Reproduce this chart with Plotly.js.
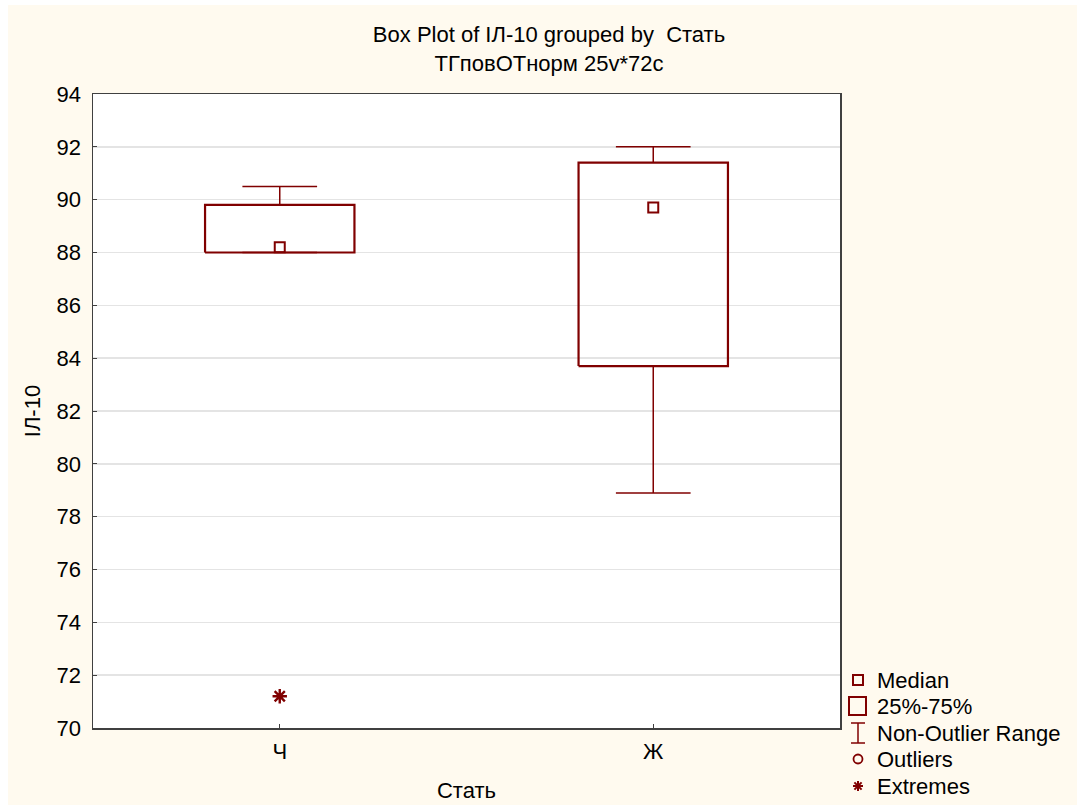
<!DOCTYPE html>
<html>
<head>
<meta charset="utf-8">
<script src="https://cdn.plot.ly/plotly-3.0.1.min.js"></script>
<style>
  html, body { margin: 0; padding: 0; background: #ffffff; }
  #chart { width: 1079px; height: 807px; }
</style>
</head>
<body>
<div id="chart"></div>
<script>
// Box statistics of ІЛ-10 per group
const categories = ['Ч', 'Ж'];
const medianVals = [88.2, 89.7];
const q1Vals = [88.0, 83.7];
const q3Vals = [89.8, 91.4];
const whiskerLow = [88.0, 78.9];
const whiskerHigh = [90.5, 92.0];
const extremeCats = ['Ч'];
const extremeVals = [71.2];

const legendLabels = ['Median', '25%-75%', 'Non-Outlier Range', 'Outliers', 'Extremes'];

const RED = '#800000';
const FONT = 'Liberation Sans, Arial, sans-serif';
const FS = 22;

// plot area in pixels, used to place the hand-drawn legend outside it
const L = 93, T = 94, W = 747, H = 634;
const px = p => (p - L) / W;
const py = p => (T + H - p) / H;

const boxHalf = 0.2, capHalf = 0.1;
const idx = categories.map((c, i) => i);

// box outlines (25%-75%)
const boxX = [], boxY = [];
idx.forEach(i => {
  boxX.push(i - boxHalf, i + boxHalf, i + boxHalf, i - boxHalf, i - boxHalf, null);
  boxY.push(q1Vals[i], q1Vals[i], q3Vals[i], q3Vals[i], q1Vals[i], null);
});

// whiskers with caps (non-outlier range)
const wX = [], wY = [];
idx.forEach(i => {
  wX.push(i, i, null, i - capHalf, i + capHalf, null);
  wY.push(q3Vals[i], whiskerHigh[i], null, whiskerHigh[i], whiskerHigh[i], null);
  wX.push(i, i, null, i - capHalf, i + capHalf, null);
  wY.push(q1Vals[i], whiskerLow[i], null, whiskerLow[i], whiskerLow[i], null);
});

const traces = [
  {
    type: 'scatter', mode: 'lines', x: wX, y: wY,
    line: { color: RED, width: 1.5 }, hoverinfo: 'skip', showlegend: false
  },
  {
    type: 'scatter', mode: 'lines', x: boxX, y: boxY,
    line: { color: RED, width: 2.2 }, hoverinfo: 'skip', showlegend: false
  },
  {
    type: 'scatter', mode: 'markers', x: idx, y: medianVals,
    marker: { symbol: 'square-open', size: 10, color: RED, line: { color: RED, width: 2 } },
    showlegend: false
  },
  {
    type: 'scatter', mode: 'markers',
    x: extremeCats.map(c => categories.indexOf(c)), y: extremeVals,
    marker: { symbol: 'asterisk-open', size: 12, color: RED, line: { color: RED, width: 2.4 } },
    showlegend: false
  }
];

// legend symbols
const lgY = [680, 706, 733, 759, 786];
const lgCx = 858;
const shapes = [];
const pshape = (o) => Object.assign({ xref: 'paper', yref: 'paper' }, o);
shapes.push(pshape({ type: 'rect', x0: px(853), x1: px(863), y0: py(lgY[0] + 5), y1: py(lgY[0] - 5),
  line: { color: RED, width: 2 } }));
shapes.push(pshape({ type: 'rect', x0: px(849), x1: px(866), y0: py(lgY[1] + 9), y1: py(lgY[1] - 9),
  line: { color: RED, width: 2 } }));
shapes.push(pshape({ type: 'line', x0: px(lgCx), x1: px(lgCx), y0: py(lgY[2] - 10), y1: py(lgY[2] + 10),
  line: { color: RED, width: 1.5 } }));
shapes.push(pshape({ type: 'line', x0: px(851), x1: px(865), y0: py(lgY[2] - 10), y1: py(lgY[2] - 10),
  line: { color: RED, width: 1.5 } }));
shapes.push(pshape({ type: 'line', x0: px(851), x1: px(865), y0: py(lgY[2] + 10), y1: py(lgY[2] + 10),
  line: { color: RED, width: 1.5 } }));
shapes.push(pshape({ type: 'circle', x0: px(lgCx - 4.5), x1: px(lgCx + 4.5), y0: py(lgY[3] + 4.5), y1: py(lgY[3] - 4.5),
  line: { color: RED, width: 1.8 } }));
[[5, 0], [0, 5], [3.6, 3.6], [3.6, -3.6]].forEach(([dx, dy]) => {
  shapes.push(pshape({ type: 'line', x0: px(lgCx - dx), x1: px(lgCx + dx), y0: py(lgY[4] - dy), y1: py(lgY[4] + dy),
    line: { color: RED, width: 2 } }));
});
// thin white border around the cream page
[[0, 0, 8, 807], [0, 0, 1079, 5], [1077, 0, 1079, 807], [0, 805, 1079, 807]].forEach(([a, b, c, d]) => {
  shapes.push(pshape({ type: 'rect', x0: px(a), x1: px(c), y0: py(b), y1: py(d),
    fillcolor: '#ffffff', line: { width: 0 }, layer: 'below' }));
});

const annotations = legendLabels.map((t, i) => ({
  xref: 'paper', yref: 'paper', x: px(875), y: py(lgY[i]),
  xanchor: 'left', yanchor: 'middle', showarrow: false, text: t,
  font: { family: FONT, size: FS, color: '#000000' }
}));

const layout = {
  width: 1079, height: 807,
  margin: { l: L, r: 1079 - L - W, t: T, b: 807 - T - H, pad: 0 },
  paper_bgcolor: '#FFFAEF',
  plot_bgcolor: '#FFFFFF',
  font: { family: FONT, size: FS, color: '#000000' },
  title: {
    text: 'Box Plot of ІЛ-10 grouped by \u00a0Стать<br>ТГповОТнорм 25v*72c',
    xref: 'container', yref: 'container', x: 549 / 1079, xanchor: 'center',
    y: 1 - 42 / 807, yanchor: 'top',
    font: { family: FONT, size: FS, color: '#000000' }
  },
  xaxis: {
    range: [-0.5, 1.5], tickvals: idx, ticktext: categories,
    showgrid: false, zeroline: false,
    showline: true, mirror: true, linecolor: '#404040', linewidth: 1.5,
    ticks: 'inside', ticklen: 4, tickcolor: '#404040',
    ticklabelstandoff: 3,
    tickfont: { family: FONT, size: FS },
    title: { text: 'Стать', font: { family: FONT, size: FS }, standoff: 19 },
    automargin: false
  },
  yaxis: {
    range: [70, 94], dtick: 2, tick0: 70,
    showgrid: true, gridcolor: '#E4E4E4', gridwidth: 1.5, zeroline: false,
    showline: true, mirror: true, linecolor: '#404040', linewidth: 1.5,
    ticks: 'inside', ticklen: 4, tickcolor: '#404040',
    ticklabelstandoff: 6,
    tickfont: { family: FONT, size: FS },
    title: { text: 'ІЛ-10', font: { family: FONT, size: FS }, standoff: 10 },
    automargin: false
  },
  showlegend: false,
  shapes: shapes,
  annotations: annotations
};

Plotly.newPlot('chart', traces, layout, { displayModeBar: false, staticPlot: true });
</script>
</body>
</html>
